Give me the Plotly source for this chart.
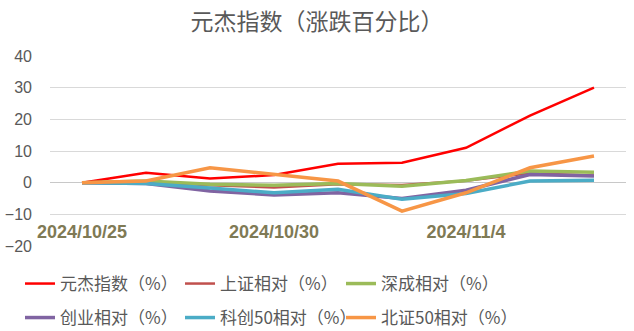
import plotly.graph_objects as go

dates = ["2024/10/25", "2024/10/28", "2024/10/29", "2024/10/30", "2024/10/31",
         "2024/11/1", "2024/11/4", "2024/11/5", "2024/11/6"]
tick_dates = ["2024/10/25", "2024/10/30", "2024/11/4"]

yuanjie = [0, 3.1, 1.3, 2.4, 6.0, 6.3, 11.0, 21.2, 30.0]
shanghai = [0, 0.3, -0.8, -1.5, -0.5, -0.7, 0.6, 3.0, 2.3]
shenzhen = [0, 0.5, -0.5, -0.8, -0.3, -1.1, 0.7, 3.7, 3.3]
chinext = [0, -0.3, -2.6, -3.9, -3.2, -5.0, -2.4, 2.6, 2.1]
star50 = [0, -0.3, -1.7, -3.2, -2.1, -5.2, -3.4, 0.5, 0.8]
bse50 = [0, 0.5, 4.7, 2.6, 0.5, -9.0, -3.2, 4.7, 8.4]

series = [
    ("元杰指数（%）", yuanjie, "#FF0000", 2.5),
    ("上证相对（%）", shanghai, "#C0504D", 2.5),
    ("深成相对（%）", shenzhen, "#9BBB59", 3.5),
    ("创业相对（%）", chinext, "#8064A2", 3.5),
    ("科创50相对（%）", star50, "#4BACC6", 3.5),
    ("北证50相对（%）", bse50, "#F79646", 3.5),
]

font_cjk = "Noto Sans CJK SC, Noto Sans, sans-serif"
PH = 190  # plot height in px
PW = 576  # plot width in px

# legend grid: 3 columns x 2 rows (pixel positions relative to page)
col_px = [20, 180, 341]
row_px = [284, 318]

fig = go.Figure()
legend_layout = {}
for i, (name, vals, color, w) in enumerate(series):
    key = "legend" if i == 0 else f"legend{i + 1}"
    fig.add_trace(go.Scatter(x=dates, y=vals, mode="lines", name=name, showlegend=True,
                             line=dict(color=color, width=w), legend=key))
    r, c = divmod(i, 3)
    legend_layout[key] = dict(
        orientation="h", font=dict(family=font_cjk, size=17, color="#595959"),
        xanchor="left", yanchor="middle", bgcolor="rgba(0,0,0,0)", itemwidth=30,
        x=(col_px[c] - 50) / PW, y=(246 - row_px[r]) / PH,
    )

fig.update_layout(
    width=634, height=331, showlegend=True,
    margin=dict(l=50, r=8, t=56, b=85, autoexpand=False),
    paper_bgcolor="white", plot_bgcolor="white",
    title=dict(text="元杰指数（涨跌百分比）", x=0.5, xanchor="center", y=1 - 22 / 331, yanchor="middle",
               font=dict(family=font_cjk, size=23, color="#595959")),
    xaxis=dict(type="category", range=[-0.5, 8.5], tickmode="array", tickvals=tick_dates,
               ticktext=tick_dates, anchor="free", position=(246 - 219) / PH,
               showgrid=False, showline=False, ticks="",
               tickfont=dict(family="Liberation Sans, sans-serif", size=18, color="#7F7A55",
                             weight="bold")),
    yaxis=dict(range=[-20, 40], dtick=10, showgrid=True, gridcolor="#D9D9D9", gridwidth=1,
               zeroline=True, zerolinecolor="#C8C8C8", zerolinewidth=1, showline=False,
               ticklabelstandoff=17,
               tickfont=dict(family="Liberation Sans, sans-serif", size=16, color="#595959")),
    **legend_layout,
)

fig.write_html("out.html")
